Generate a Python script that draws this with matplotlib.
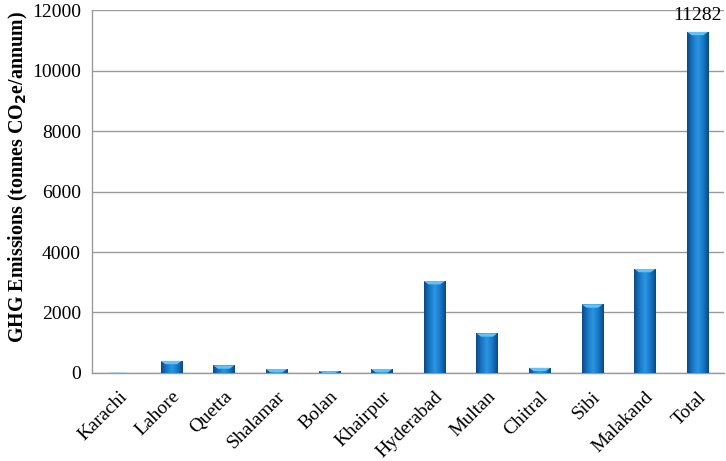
import matplotlib
matplotlib.use("Agg")
import matplotlib.pyplot as plt
import numpy as np
from matplotlib.colors import LinearSegmentedColormap
from matplotlib.patches import Polygon

categories = ["Karachi", "Lahore", "Quetta", "Shalamar", "Bolan", "Khairpur",
              "Hyderabad", "Multan", "Chitral", "Sibi", "Malakand", "Total"]
values = [10, 400, 250, 130, 60, 130, 3040, 1310, 170, 2270, 3440, 11282]
yticks = [0, 2000, 4000, 6000, 8000, 10000, 12000]
total_label = "11282"

plt.rcParams['font.family'] = ['Liberation Serif', 'DejaVu Serif']
fig = plt.figure(figsize=(7.26, 4.61), dpi=100)
ax = fig.add_axes([0.127, 0.191, 0.870, 0.787])

x = np.arange(len(categories))
width = 0.40
cmap = LinearSegmentedColormap.from_list("b", ["#0a4a85", "#1877c6", "#2b95e3", "#1877c6", "#0a4a85"])
grad = np.linspace(0, 1, 64).reshape(1, -1)

bars = ax.bar(x, values, width=width, color="#1a7fd0", edgecolor="#0b4a80", linewidth=0.6, zorder=3)
for b, v in zip(bars, values):
    x0, w, h = b.get_x(), b.get_width(), b.get_height()
    im = ax.imshow(grad, cmap=cmap, aspect="auto", extent=(x0, x0 + w, 0, h), zorder=3.5)
    im.set_clip_path(b)
    bev = min(h, 110)
    tri = Polygon([(x0, h), (x0 + w, h), (x0 + w * 0.78, h - bev), (x0 + w * 0.22, h - bev)],
                  closed=True, facecolor="#62c3f6", edgecolor="none", zorder=4)
    ax.add_patch(tri)

ax.set_xlim(-0.5, len(categories) - 0.5)
ax.set_ylim(0, 12000)
ax.set_yticks(yticks)
ax.set_yticklabels([str(t) for t in yticks], fontsize=14)
ax.set_xticks(x)
ax.set_xticklabels(categories, rotation=45, ha="right", rotation_mode="anchor", fontsize=14)
ax.tick_params(axis="y", length=0, pad=8)
ax.tick_params(axis="x", length=0, pad=11)
ax.grid(axis="y", color="#9a9a9a", linewidth=1.0, zorder=0)
ax.set_axisbelow(True)
for s in ["top", "right"]:
    ax.spines[s].set_visible(False)
for s in ["left", "bottom"]:
    ax.spines[s].set_color("#9a9a9a")
    ax.spines[s].set_linewidth(1.0)

ax.set_ylabel("GHG Emissions (tonnes CO$_\\mathbf{2}$e/annum)", fontsize=14.4, fontweight="bold")
ax.yaxis.set_label_coords(-0.098, 0.54)
ax.annotate(total_label, (x[-1], values[-1]), xytext=(0, 6), textcoords="offset points",
            ha="center", va="bottom", fontsize=14, annotation_clip=False)

fig.savefig("out.png", dpi=100)
